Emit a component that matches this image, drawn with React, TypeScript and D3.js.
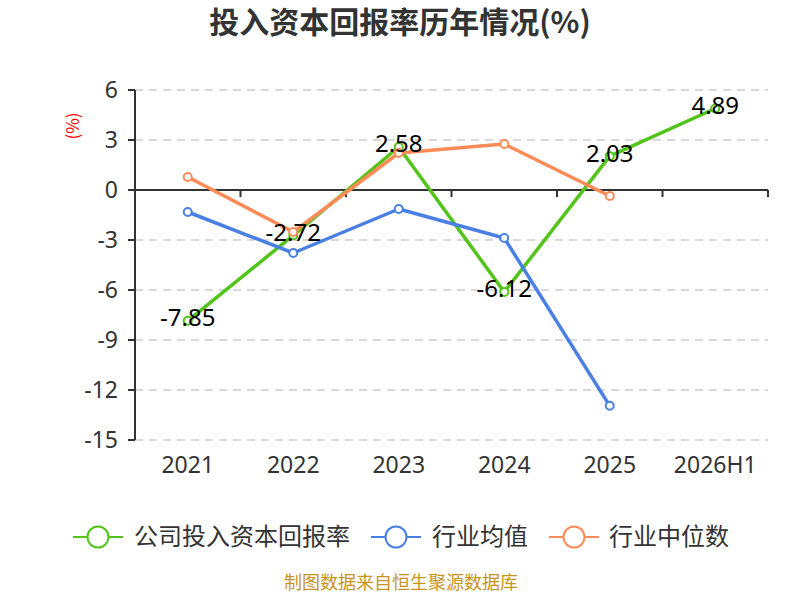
import React from "react"
import * as d3 from "d3";

const years = ["2021", "2022", "2023", "2024", "2025", "2026H1"]
const companyRate = [-7.85, -2.72, 2.58, -6.12, 2.03, 4.89]
const industryMean = [-1.32, -3.78, -1.14, -2.88, -12.95]
const industryMedian = [0.78, -2.52, 2.22, 2.76, -0.36]
const yTicks = [6, 3, 0, -3, -6, -9, -12, -15]

const seriesNames = ["公司投入资本回报率", "行业均值", "行业中位数"]
const seriesColors = ["#52c41a", "#4a7fe3", "#fd8b58"]

const cnFont = "'Noto Sans CJK SC', 'Noto Sans', sans-serif"
const numFont = "'Noto Sans', sans-serif"

function App() {
    const width = 800
    const height = 600
    const [left, right, top, bottom] = [135, 768, 90, 440]

    const xBand = d3.scaleBand().domain(years).range([left, right])
    const xPos = (i: number) => (xBand(years[i]) as number) + xBand.bandwidth() / 2
    const yAxis = d3.scaleLinear().domain([-15, 6]).range([bottom, top])

    const line = d3.line<number>()
        .x((d, i) => xPos(i))
        .y((d) => yAxis(d))

    const allSeries = [companyRate, industryMean, industryMedian]

    // legend positions (marker centre x, text start x)
    const legendItems = [
        { cx: 98, tx: 134 },
        { cx: 396, tx: 432 },
        { cx: 574, tx: 609 },
    ]

    const boundaries = d3.range(years.length + 1).map((i) => left + i * xBand.bandwidth())

    return (
        <svg width={width} height={height} style={{ position: "absolute", left: 0, top: 0 }}>
            <rect x={0} y={0} width={width} height={height} fill="#fff" />
            <text x={400} y={22} dy="0.35em" textAnchor="middle" fontSize={30} fontWeight="bold" fill="#333" fontFamily={cnFont}>
                投入资本回报率历年情况(%)
            </text>
            <text transform="translate(79,126) rotate(-90)" textAnchor="middle" fontSize={17} fill="#f00" fontFamily={cnFont}>
                (%)
            </text>

            {/* grid + y ticks */}
            {yTicks.map((t) => (
                <g key={t}>
                    {t !== 0 && (
                        <line x1={left} x2={right} y1={yAxis(t)} y2={yAxis(t)} stroke="#ccc" strokeWidth={1.5} strokeDasharray="8,6" />
                    )}
                    <line x1={left - 7} x2={left} y1={yAxis(t)} y2={yAxis(t)} stroke="#333" strokeWidth={2} />
                    <text x={left - 17} y={yAxis(t)} dy="0.35em" textAnchor="end" fontSize={23} fill="#333" fontFamily={numFont}>
                        {t}
                    </text>
                </g>
            ))}
            <line x1={left} x2={left} y1={top} y2={bottom} stroke="#333" strokeWidth={2} />

            {/* x axis on zero line */}
            <line x1={left} x2={right} y1={yAxis(0)} y2={yAxis(0)} stroke="#333" strokeWidth={2} />
            {boundaries.map((b) => (
                <line key={b} x1={b} x2={b} y1={yAxis(0)} y2={yAxis(0) + 7} stroke="#333" strokeWidth={2} />
            ))}
            {years.map((y, i) => (
                <text key={y} x={xPos(i)} y={465} dy="0.35em" textAnchor="middle" fontSize={23} fill="#333" fontFamily={numFont}>
                    {y}
                </text>
            ))}

            {/* series */}
            {allSeries.map((s, k) => (
                <g key={k}>
                    <path d={line(s) as string} fill="none" stroke={seriesColors[k]} strokeWidth={3.5} strokeLinejoin="round" />
                    {s.map((d, i) => (
                        <circle key={i} cx={xPos(i)} cy={yAxis(d)} r={4} fill="#fff" stroke={seriesColors[k]} strokeWidth={2} />
                    ))}
                </g>
            ))}

            {/* value labels for company */}
            {companyRate.map((d, i) => (
                <text key={i} x={xPos(i)} y={yAxis(d) - 3} dy="0.35em" textAnchor="middle" fontSize={24} fill="#000" fontFamily={numFont}>
                    {d.toFixed(2)}
                </text>
            ))}

            {/* legend */}
            {seriesNames.map((name, k) => (
                <g key={name}>
                    <line x1={legendItems[k].cx - 25} x2={legendItems[k].cx + 25} y1={537} y2={537} stroke={seriesColors[k]} strokeWidth={2} />
                    <circle cx={legendItems[k].cx} cy={537} r={10.5} fill="#fff" stroke={seriesColors[k]} strokeWidth={2} />
                    <text x={legendItems[k].tx} y={537} dy="0.35em" fontSize={24} fill="#333" fontFamily={cnFont}>
                        {name}
                    </text>
                </g>
            ))}

            <text x={401} y={589} textAnchor="middle" fontSize={18} fill="#c8941e" fontFamily={cnFont}>
                制图数据来自恒生聚源数据库
            </text>
        </svg>
    )
}

export default App
